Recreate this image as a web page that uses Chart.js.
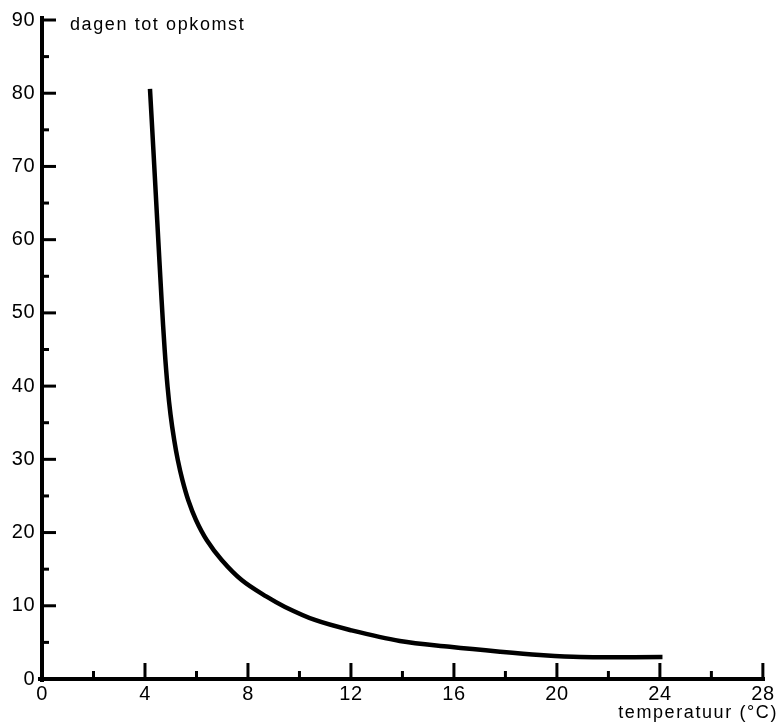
<!DOCTYPE html>
<html>
<head>
<meta charset="utf-8">
<script src="https://cdn.jsdelivr.net/npm/chart.js@4"></script>
<style>
html,body{margin:0;padding:0;background:#fff;}
#wrap{width:777px;height:724px;}
</style>
</head>
<body>
<div id="wrap"><canvas id="c" width="777" height="724"></canvas></div>
<script>
// Data
const temperature = [4.194, 4.326, 4.474, 4.645, 4.765, 4.878, 4.994, 5.134, 5.274, 5.452, 5.678, 5.981, 6.396, 6.979, 7.755, 8.726, 9.44, 10.60, 11.96, 13.9, 15.84, 17.79, 19.34, 20.9, 24.1];
const days        = [80.6, 72.27, 62.70, 51.78, 44.95, 39.89, 36.07, 32.65, 29.92, 27.19, 24.45, 21.72, 18.99, 16.26, 13.52, 11.24, 9.84, 8.06, 6.7, 5.2, 4.4, 3.73, 3.28, 3.0, 3.0];
const xMajorTicks = [4, 8, 12, 16, 20, 24, 28];
const xMinorTicks = [2, 6, 10, 14, 18, 22, 26];
const yMajorTicks = [10, 20, 30, 40, 50, 60, 70, 80, 90];
const yMinorTicks = [5, 15, 25, 35, 45, 55, 65, 75, 85];
const yTitle = 'dagen tot opkomst';
const xTitle = 'temperatuur (°C)';

const FONT = '"Liberation Sans", Arial, Helvetica, sans-serif';

const innerTicks = {
  id: 'innerTicks',
  beforeDraw(chart) { chart.ctx.lineCap = 'square'; chart.ctx.letterSpacing = '0.5px'; },
  afterDraw(chart) {
    const ctx = chart.ctx, xs = chart.scales.x, ys = chart.scales.y;
    const a = chart.chartArea;
    ctx.save();
    ctx.strokeStyle = '#000';
    ctx.lineWidth = 3;
    ctx.lineCap = 'butt';
    const seg = (x1, y1, x2, y2) => { ctx.beginPath(); ctx.moveTo(x1, y1); ctx.lineTo(x2, y2); ctx.stroke(); };
    yMajorTicks.forEach(v => { const y = ys.getPixelForValue(v); seg(a.left, y, a.left + 14, y); });
    yMinorTicks.forEach(v => { const y = ys.getPixelForValue(v); seg(a.left, y, a.left + 7, y); });
    xMajorTicks.forEach(v => { const x = xs.getPixelForValue(v); seg(x, a.bottom, x, a.bottom - 16); });
    xMinorTicks.forEach(v => { const x = xs.getPixelForValue(v); seg(x, a.bottom, x, a.bottom - 8); });
    // axis titles
    ctx.fillStyle = '#000';
    ctx.font = '18px ' + FONT;
    ctx.letterSpacing = '1.6px';
    ctx.textBaseline = 'alphabetic';
    ctx.textAlign = 'left';
    ctx.fillText(yTitle, a.left + 28, ys.getPixelForValue(90) + 10);
    ctx.textAlign = 'right';
    ctx.fillText(xTitle, chart.width + 1, a.bottom + 39);
    ctx.restore();
  }
};

new Chart(document.getElementById('c'), {
  type: 'line',
  data: {
    datasets: [{
      data: temperature.map((t, i) => ({x: t, y: days[i]})),
      borderColor: '#000',
      borderWidth: 4.5,
      pointRadius: 0,
      fill: false,
      tension: 0.35
    }]
  },
  options: {
    responsive: false,
    animation: false,
    layout: {padding: {top: 20, right: 14, left: 0, bottom: 0}},
    plugins: {legend: {display: false}, tooltip: {enabled: false}, title: {display: false}},
    scales: {
      x: {
        type: 'linear', min: 0, max: 28,
        afterFit(s) { s.height = 45; },
        ticks: {stepSize: 4, padding: 3, color: '#000', font: {family: FONT, size: 20}, maxRotation: 0},
        grid: {display: true, drawOnChartArea: false, drawTicks: false},
        border: {display: true, color: '#000', width: 4}
      },
      y: {
        type: 'linear', min: 0, max: 90,
        afterFit(s) { s.width = 42; },
        ticks: {stepSize: 10, padding: 7, color: '#000', font: {family: FONT, size: 20}},
        grid: {display: true, drawOnChartArea: false, drawTicks: false},
        border: {display: true, color: '#000', width: 4}
      }
    }
  },
  plugins: [innerTicks]
});
</script>
</body>
</html>
